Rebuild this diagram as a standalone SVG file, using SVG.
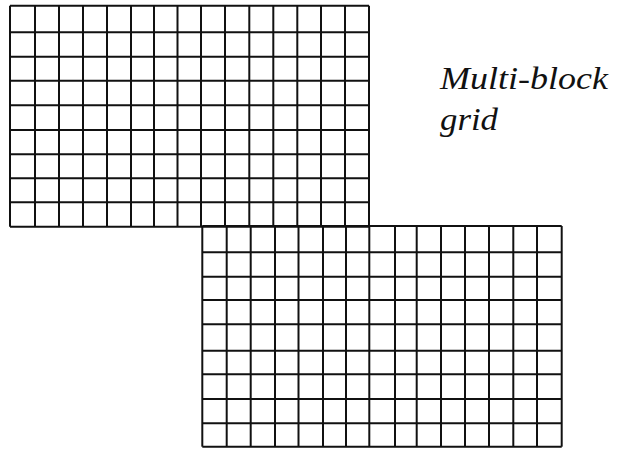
<svg xmlns="http://www.w3.org/2000/svg" width="618" height="449" viewBox="0 0 618 449">
<style>
.g line{stroke:#111;stroke-width:2;}
.lbl{font-family:"Liberation Serif","DejaVu Serif",serif;font-style:italic;font-size:32px;fill:#111;}
</style>
<rect width="618" height="449" fill="#fff"/>
<g id="grid-top" class="g">
<line x1="10" y1="5.7" x2="10" y2="226.7"/>
<line x1="35" y1="5.7" x2="35" y2="226.7"/>
<line x1="59" y1="5.7" x2="59" y2="226.7"/>
<line x1="83" y1="5.7" x2="83" y2="226.7"/>
<line x1="107" y1="5.7" x2="107" y2="226.7"/>
<line x1="131" y1="5.7" x2="131" y2="226.7"/>
<line x1="154" y1="5.7" x2="154" y2="226.7"/>
<line x1="177.5" y1="5.7" x2="177.5" y2="226.7"/>
<line x1="201" y1="5.7" x2="201" y2="226.7"/>
<line x1="225" y1="5.7" x2="225" y2="226.7"/>
<line x1="249.3" y1="5.7" x2="249.3" y2="226.7"/>
<line x1="273.3" y1="5.7" x2="273.3" y2="226.7"/>
<line x1="297.3" y1="5.7" x2="297.3" y2="226.7"/>
<line x1="321" y1="5.7" x2="321" y2="226.7"/>
<line x1="345" y1="5.7" x2="345" y2="226.7"/>
<line x1="369" y1="5.7" x2="369" y2="226.7"/>
<line x1="10" y1="5.7" x2="369" y2="5.7"/>
<line x1="10" y1="32.3" x2="369" y2="32.3"/>
<line x1="10" y1="56.7" x2="369" y2="56.7"/>
<line x1="10" y1="80.7" x2="369" y2="80.7"/>
<line x1="10" y1="105.3" x2="369" y2="105.3"/>
<line x1="10" y1="130" x2="369" y2="130"/>
<line x1="10" y1="154.3" x2="369" y2="154.3"/>
<line x1="10" y1="178.3" x2="369" y2="178.3"/>
<line x1="10" y1="202.3" x2="369" y2="202.3"/>
<line x1="10" y1="226.7" x2="369" y2="226.7"/>
</g>
<g id="grid-bottom" class="g">
<line x1="202.3" y1="226" x2="202.3" y2="446.7"/>
<line x1="226.7" y1="226" x2="226.7" y2="446.7"/>
<line x1="250.7" y1="226" x2="250.7" y2="446.7"/>
<line x1="275" y1="226" x2="275" y2="446.7"/>
<line x1="298.5" y1="226" x2="298.5" y2="446.7"/>
<line x1="323" y1="226" x2="323" y2="446.7"/>
<line x1="346" y1="226" x2="346" y2="446.7"/>
<line x1="369.3" y1="226" x2="369.3" y2="446.7"/>
<line x1="395" y1="226" x2="395" y2="446.7"/>
<line x1="416.7" y1="226" x2="416.7" y2="446.7"/>
<line x1="441" y1="226" x2="441" y2="446.7"/>
<line x1="465" y1="226" x2="465" y2="446.7"/>
<line x1="489" y1="226" x2="489" y2="446.7"/>
<line x1="513.3" y1="226" x2="513.3" y2="446.7"/>
<line x1="537" y1="226" x2="537" y2="446.7"/>
<line x1="561.7" y1="226" x2="561.7" y2="446.7"/>
<line x1="202.3" y1="226" x2="561.7" y2="226"/>
<line x1="202.3" y1="252.3" x2="561.7" y2="252.3"/>
<line x1="202.3" y1="276.7" x2="561.7" y2="276.7"/>
<line x1="202.3" y1="300" x2="561.7" y2="300"/>
<line x1="202.3" y1="324.3" x2="561.7" y2="324.3"/>
<line x1="202.3" y1="350.7" x2="561.7" y2="350.7"/>
<line x1="202.3" y1="374.3" x2="561.7" y2="374.3"/>
<line x1="202.3" y1="399" x2="561.7" y2="399"/>
<line x1="202.3" y1="423.3" x2="561.7" y2="423.3"/>
<line x1="202.3" y1="446.7" x2="561.7" y2="446.7"/>
</g>
<g id="label">
<text class="lbl" x="440" y="89" textLength="168" lengthAdjust="spacingAndGlyphs">Multi-block</text>
<text class="lbl" x="440" y="130" textLength="58" lengthAdjust="spacingAndGlyphs">grid</text>
</g>
</svg>
